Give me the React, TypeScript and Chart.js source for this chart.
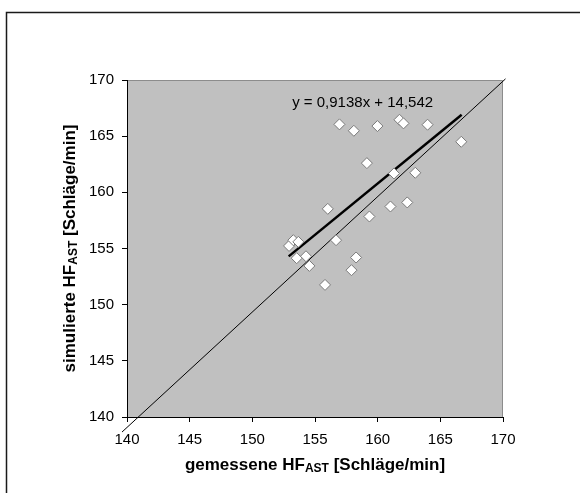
import React, { useEffect, useRef } from "react";
import { Chart, registerables } from "chart.js";
Chart.register(...registerables);

// Measured vs simulated heart rate (Schläge/min)
const measuredX = [156.95, 158.1, 159.98, 161.74, 162.06, 163.98, 166.67, 159.14, 161.3, 163.0, 156.02, 161.02, 162.36, 159.34, 156.68, 152.93, 153.27, 153.67, 153.54, 154.28, 154.55, 158.28, 157.91, 155.8];
const simulatedY = [166.05, 165.48, 165.9, 166.46, 166.14, 166.02, 164.5, 162.6, 161.68, 161.74, 158.53, 158.74, 159.1, 157.85, 155.74, 155.23, 155.74, 155.59, 154.14, 154.31, 153.45, 154.2, 153.07, 151.76];

// regression line endpoints (y = 0,9138x + 14,542)
const regX = [152.9, 166.7];
const regY = [154.3, 166.9];

// diagonal reference line endpoints
const diagX = [139.6, 170.2];
const diagY = [138.66, 170.1];

const axisTicks = [140, 145, 150, 155, 160, 165, 170];
const regressionLabel = "y = 0,9138x + 14,542";
const xTitle = ["gemessene HF", "AST", " [Schläge/min]"];
const yTitle = ["simulierte HF", "AST", " [Schläge/min]"];

const FONT = "'Liberation Sans', Arial, sans-serif";

function drawSubTitle(ctx: CanvasRenderingContext2D, parts: string[], size: number) {
  const main = `bold ${size}px ${FONT}`;
  const sub = `bold ${Math.round(size * 0.68)}px ${FONT}`;
  ctx.font = main;
  const w1 = ctx.measureText(parts[0]).width;
  const w3 = ctx.measureText(parts[2]).width;
  ctx.font = sub;
  const w2 = ctx.measureText(parts[1]).width;
  const total = w1 + w2 + w3;
  let x = -total / 2;
  ctx.textBaseline = "alphabetic";
  ctx.textAlign = "left";
  ctx.font = main;
  ctx.fillText(parts[0], x, size * 0.36);
  x += w1;
  ctx.font = sub;
  ctx.fillText(parts[1], x, size * 0.36 + size * 0.12);
  x += w2;
  ctx.font = main;
  ctx.fillText(parts[2], x, size * 0.36);
}

const decorPlugin = {
  id: "decor",
  beforeDraw(chart: any) {
    const { ctx, chartArea } = chart;
    const { left, top, right, bottom } = chartArea;
    ctx.save();
    ctx.fillStyle = "#ffffff";
    ctx.fillRect(0, 0, chart.width, chart.height);
    // outer frame
    ctx.strokeStyle = "#1a1a1a";
    ctx.lineWidth = 1.5;
    ctx.beginPath();
    ctx.moveTo(6.5, chart.height);
    ctx.lineTo(6.5, 12.5);
    ctx.lineTo(chart.width, 12.5);
    ctx.stroke();
    // plot background
    ctx.fillStyle = "#c0c0c0";
    ctx.fillRect(left, top, right - left, bottom - top);
    ctx.strokeStyle = "#8c8c8c";
    ctx.lineWidth = 1;
    ctx.beginPath();
    ctx.moveTo(left, top + 0.5);
    ctx.lineTo(right - 0.5, top + 0.5);
    ctx.lineTo(right - 0.5, bottom);
    ctx.stroke();
    ctx.restore();
  },
  afterDraw(chart: any) {
    const { ctx, chartArea, scales } = chart;
    ctx.save();
    ctx.fillStyle = "#000";
    // regression label
    ctx.font = `15px ${FONT}`;
    ctx.textAlign = "center";
    ctx.textBaseline = "middle";
    ctx.fillText(regressionLabel, scales.x.getPixelForValue(158.8), scales.y.getPixelForValue(168));
    // x title
    ctx.save();
    ctx.translate((chartArea.left + chartArea.right) / 2, 464);
    drawSubTitle(ctx, xTitle, 17);
    ctx.restore();
    // y title
    ctx.save();
    ctx.translate(69, (chartArea.top + chartArea.bottom) / 2);
    ctx.rotate(-Math.PI / 2);
    drawSubTitle(ctx, yTitle, 17);
    ctx.restore();
    ctx.restore();
  },
};

export default function App() {
  const ref = useRef<HTMLCanvasElement>(null);
  useEffect(() => {
    if (!ref.current) return;
    const pts = measuredX.map((x, i) => ({ x, y: simulatedY[i] }));
    const reg = regX.map((x, i) => ({ x, y: regY[i] }));
    const diag = diagX.map((x, i) => ({ x, y: diagY[i] }));
    const chart = new Chart(ref.current, {
      type: "scatter",
      data: {
        datasets: [
          {
            data: diag,
            showLine: true,
            borderColor: "#000",
            borderWidth: 1,
            pointRadius: 0,
            clip: false as any,
            order: 3,
          },
          {
            data: reg,
            showLine: true,
            borderColor: "#000",
            borderWidth: 2.5,
            pointRadius: 0,
            order: 2,
          },
          {
            data: pts,
            pointStyle: "rectRot",
            pointRadius: 5.5,
            backgroundColor: "#ffffff",
            borderColor: "#7a7a7a",
            borderWidth: 1,
            order: 1,
          },
        ],
      },
      options: {
        responsive: false,
        animation: false,
        layout: { padding: { left: 0, top: 80, right: 77, bottom: 0 } },
        plugins: { legend: { display: false }, tooltip: { enabled: false } },
        scales: {
          x: {
            type: "linear",
            min: 140,
            max: 170,
            afterBuildTicks: (s: any) => {
              s.ticks = axisTicks.map((v) => ({ value: v }));
            },
            afterFit: (s: any) => {
              s.height = 76;
            },
            grid: { display: true, drawOnChartArea: false, drawTicks: true, tickLength: 5, color: "#000" },
            border: { display: true, color: "#000", width: 1 },
            ticks: { color: "#000", font: { family: FONT, size: 15 }, padding: 9, maxRotation: 0 },
          },
          y: {
            type: "linear",
            min: 140,
            max: 170,
            afterBuildTicks: (s: any) => {
              s.ticks = axisTicks.map((v) => ({ value: v }));
            },
            afterFit: (s: any) => {
              s.width = 127;
            },
            grid: { display: true, drawOnChartArea: false, drawTicks: true, tickLength: 5, color: "#000" },
            border: { display: true, color: "#000", width: 1 },
            ticks: { color: "#000", font: { family: FONT, size: 15 }, padding: 8 },
          },
        },
      },
      plugins: [decorPlugin],
    });
    return () => chart.destroy();
  }, []);
  return (
    <div style={{ position: "absolute", left: 0, top: 0, width: 580, height: 493 }}>
      <canvas ref={ref} width={580} height={493} style={{ display: "block" }} />
    </div>
  );
}
